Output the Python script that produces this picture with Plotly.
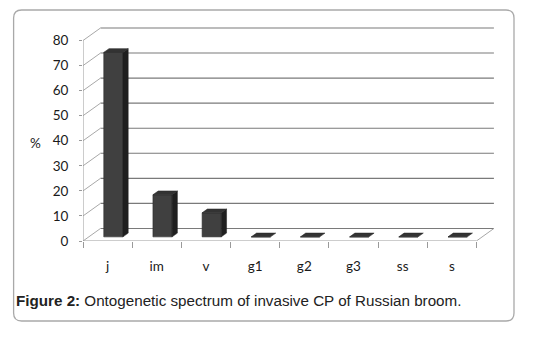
import plotly.graph_objects as go

# ---- data ----
categories = ["j", "im", "v", "g1", "g2", "g3", "ss", "s"]
values = [73.6, 16.8, 9.6, 0, 0, 0, 0, 0]
y_ticks = [0, 10, 20, 30, 40, 50, 60, 70, 80]
y_label = "%"
caption_bold = "Figure 2:"
caption_text = "Ontogenetic spectrum of invasive CP of Russian broom."

# ---- pseudo-3D geometry (in axis units) ----
DX, DY = 0.356, 5.0      # depth offset of back wall
F0, FD = 0.33, 0.30      # bar front depth fraction, bar depth fraction
BW = 0.39                # bar width
n = len(categories)
xs = list(range(n))

FRONT = "#404040"
TOP = "#333333"
SIDE = "#1f1f1f"

fig = go.Figure()

# front faces
fig.add_trace(go.Bar(
    x=[x + F0 * DX for x in xs], y=values, base=[F0 * DY] * n, width=BW,
    marker=dict(color=FRONT, line=dict(color="#2a2a2a", width=0.6)),
    hoverinfo="skip", showlegend=False))

# top and side faces
tx, ty, sx, sy = [], [], [], []
for x, v in zip(xs, values):
    xl = x - BW / 2 + F0 * DX
    xr = x + BW / 2 + F0 * DX
    b = F0 * DY
    t = v + b
    ddx, ddy = FD * DX, FD * DY
    tx += [xl, xr, xr + ddx, xl + ddx, xl, None]
    ty += [t, t, t + ddy, t + ddy, t, None]
    if v > 0:
        sx += [xr, xr + ddx, xr + ddx, xr, xr, None]
        sy += [b, b + ddy, t + ddy, t, b, None]
fig.add_trace(go.Scatter(x=sx, y=sy, mode="lines", fill="toself", fillcolor=SIDE,
                         line=dict(color=SIDE, width=0.5), hoverinfo="skip", showlegend=False))
fig.add_trace(go.Scatter(x=tx, y=ty, mode="lines", fill="toself", fillcolor=TOP,
                         line=dict(color="#2a2a2a", width=0.6), hoverinfo="skip", showlegend=False))

# ---- back wall gridlines, side wall diagonals, floor ----
x_left, x_right = -0.5, n - 0.5
shapes = []
for v in y_ticks:
    shapes.append(dict(type="line", xref="x", yref="y", layer="below",
                       x0=x_left + DX, y0=v + DY, x1=x_right + DX, y1=v + DY,
                       line=dict(color="#7a7a7a", width=1.1)))
    shapes.append(dict(type="line", xref="x", yref="y", layer="below",
                       x0=x_left, y0=v, x1=x_left + DX, y1=v + DY,
                       line=dict(color="#a8a8a8", width=1)))
# front vertical axis line
shapes.append(dict(type="line", xref="x", yref="y", layer="below",
                   x0=x_left, y0=0, x1=x_left, y1=y_ticks[-1],
                   line=dict(color="#9a9a9a", width=1)))
# floor front edge and right diagonal
shapes.append(dict(type="line", xref="x", yref="y", layer="below",
                   x0=x_left, y0=0, x1=x_right, y1=0,
                   line=dict(color="#9a9a9a", width=1)))
shapes.append(dict(type="line", xref="x", yref="y", layer="below",
                   x0=x_right, y0=0, x1=x_right + DX, y1=DY,
                   line=dict(color="#a8a8a8", width=1)))

# ---- outer rounded frame (paper coords) ----
W, H = 533, 337
ML, MR, MT, MB = 83, 32, 25, 96
PW, PH = W - ML - MR, H - MT - MB


def px(x):
    return (x - ML) / PW


def py(y):
    return (H - MB - y) / PH


fx0, fx1, fy0, fy1, r = 13.6, 514, 10, 321, 8
path = (f"M {px(fx0 + r)},{py(fy0)} L {px(fx1 - r)},{py(fy0)} "
        f"Q {px(fx1)},{py(fy0)} {px(fx1)},{py(fy0 + r)} "
        f"L {px(fx1)},{py(fy1 - r)} Q {px(fx1)},{py(fy1)} {px(fx1 - r)},{py(fy1)} "
        f"L {px(fx0 + r)},{py(fy1)} Q {px(fx0)},{py(fy1)} {px(fx0)},{py(fy1 - r)} "
        f"L {px(fx0)},{py(fy0 + r)} Q {px(fx0)},{py(fy0)} {px(fx0 + r)},{py(fy0)} Z")
shapes.append(dict(type="path", xref="paper", yref="paper", path=path, layer="below",
                   line=dict(color="#a9a9a9", width=1.3)))

LABEL_FONT = "Lato, Open Sans, sans-serif"

fig.update_layout(
    width=W, height=H,
    margin=dict(l=ML, r=MR, t=MT, b=MB, autoexpand=False),
    paper_bgcolor="white", plot_bgcolor="white",
    shapes=shapes,
    showlegend=False,
    xaxis=dict(range=[-0.5, n + 0.0], tickmode="array", tickvals=xs, ticktext=categories,
               showgrid=False, zeroline=False, showline=False, ticks="",
               ticklabelstandoff=15,
               tickfont=dict(family=LABEL_FONT, size=13.5, color="#1a1a1a"),
               minor=dict(tickmode="linear", tick0=-0.5, dtick=1, ticks="outside",
                          ticklen=6, tickcolor="#9a9a9a", tickwidth=1, showgrid=False),
               fixedrange=True),
    yaxis=dict(range=[0, PH / 2.506], tickmode="array", tickvals=y_ticks,
               showgrid=False, zeroline=False, showline=False,
               ticks="outside", ticklen=3, tickcolor="#9a9a9a", ticklabelstandoff=8,
               tickfont=dict(family=LABEL_FONT, size=13.5, color="#1a1a1a"),
               fixedrange=True),
    annotations=[
        dict(text=y_label, xref="paper", yref="paper", x=px(35), y=py(143.3),
             showarrow=False, xanchor="center", yanchor="middle",
             font=dict(family=LABEL_FONT, size=13.5, color="#1a1a1a")),
        dict(text=f"<b>{caption_bold}</b> {caption_text}", xref="paper", yref="paper",
             x=px(14), y=py(300), showarrow=False, xanchor="left", yanchor="middle",
             font=dict(family="Liberation Sans, Arial, sans-serif", size=15.2, color="#222222")),
    ],
)

fig.write_html("out.html")
